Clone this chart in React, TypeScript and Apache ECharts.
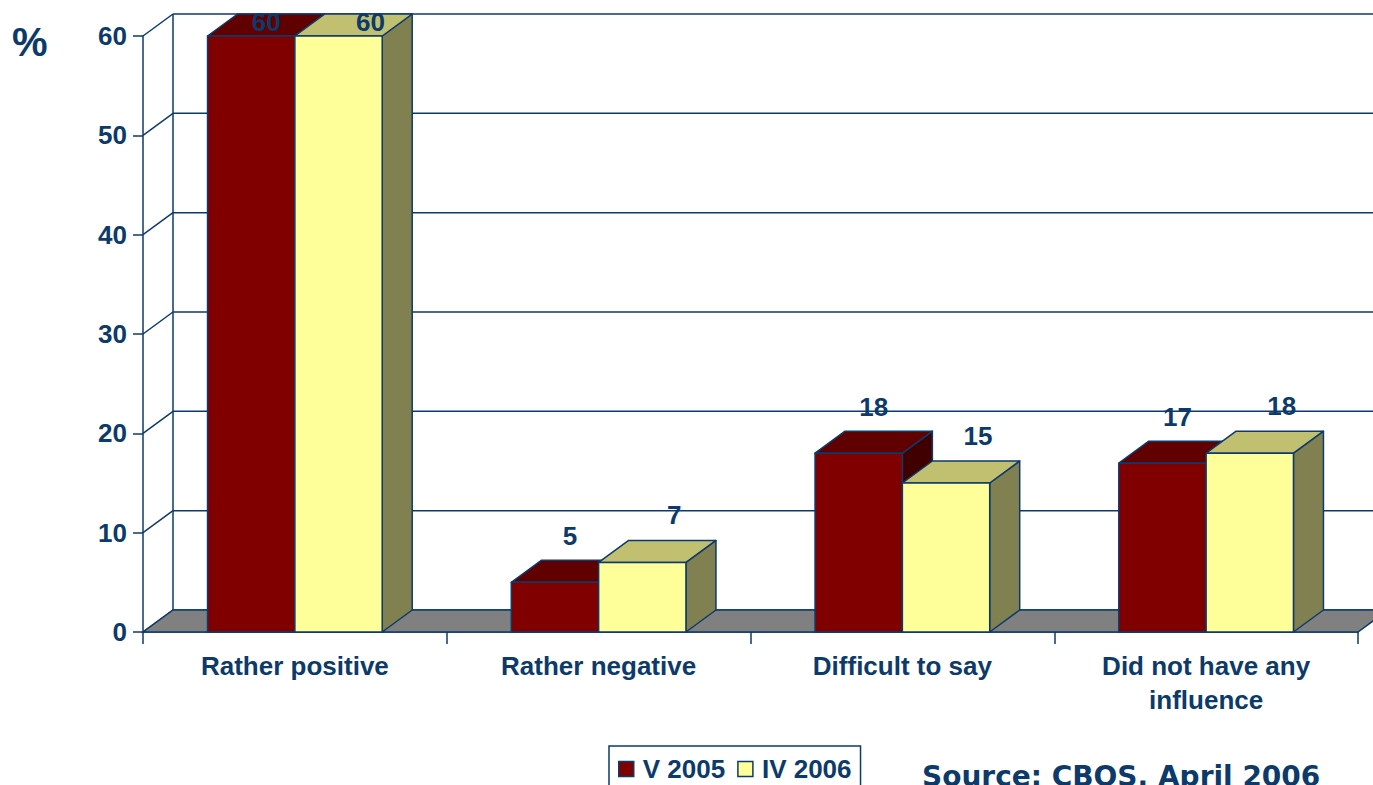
import React, { useEffect, useRef } from "react";
import * as echarts from "echarts";

const categories = ["Rather positive", "Rather negative", "Difficult to say", "Did not have any\ninfluence"];
const seriesNames = ["V 2005", "IV 2006"];
const v2005 = [60, 5, 18, 17];
const iv2006 = [60, 7, 15, 18];
const yTicks = [0, 10, 20, 30, 40, 50, 60];
const unitLabel = "%";
const sourceText = "Source: CBOS, April 2006";

const NAVY = "#0C3A6B";
const DX = 30;
const DY = -22;
const FONT = "'Liberation Sans', Arial, sans-serif";
const LW = 1.5;

const palettes = [
  { front: "#800000", top: "#600000", side: "#400000" },
  { front: "#FFFF99", top: "#C0C070", side: "#808050" },
];
const labelShift = [
  { dx: 15, dy: -46 },
  { dx: 32, dy: -47 },
];

function makeBarRender(s: number) {
  return (params: any, api: any) => {
    const i = api.value(0);
    const v = api.value(1);
    const base = api.coord([i, 0]);
    const top = api.coord([i, v]);
    const band = api.size([1, 0])[0];
    const bw = band * 0.2875;
    const x0 = s === 0 ? base[0] - bw : base[0];
    const x1 = x0 + bw;
    const yb = base[1];
    const yt = top[1];
    const c = palettes[s];
    const stroke = { stroke: NAVY, lineWidth: LW, lineJoin: "round" };
    const lx = (x0 + x1) / 2 + labelShift[s].dx;
    const ly = Math.max(yt + labelShift[s].dy, 22);
    return {
      type: "group",
      children: [
        {
          type: "polygon",
          shape: { points: [[x1, yt], [x1 + DX, yt + DY], [x1 + DX, yb + DY], [x1, yb]] },
          style: { fill: c.side, ...stroke },
        },
        {
          type: "polygon",
          shape: { points: [[x0, yt], [x1, yt], [x1 + DX, yt + DY], [x0 + DX, yt + DY]] },
          style: { fill: c.top, ...stroke },
        },
        {
          type: "rect",
          shape: { x: x0, y: yt, width: bw, height: yb - yt },
          style: { fill: c.front, ...stroke },
        },
        {
          type: "text",
          x: lx,
          y: ly,
          style: {
            text: String(v),
            fill: NAVY,
            fontSize: 26,
            fontWeight: "bold",
            fontFamily: FONT,
            align: "center",
            verticalAlign: "middle",
          },
        },
      ],
    };
  };
}

export default function App() {
  const ref = useRef<HTMLDivElement>(null);
  useEffect(() => {
    const chart = echarts.init(ref.current!, null, { renderer: "svg" });
    const n = categories.length;
    const yMax = yTicks[yTicks.length - 1];

    const wallRender = (params: any, api: any) => {
      const v = api.value(1);
      const band = api.size([1, 0])[0];
      const p = api.coord([0, v]);
      const lx = p[0] - band / 2;
      const rx = api.coord([n - 1, v])[0] + band / 2;
      const st = { stroke: NAVY, lineWidth: LW };
      const children: any[] = [
        { type: "line", shape: { x1: lx, y1: p[1], x2: lx + DX, y2: p[1] + DY }, style: st },
        { type: "line", shape: { x1: lx + DX, y1: p[1] + DY, x2: rx + DX + 60, y2: p[1] + DY }, style: st },
      ];
      if (v === yMax) {
        const b = api.coord([0, 0]);
        children.push({
          type: "line",
          shape: { x1: lx + DX, y1: b[1] + DY, x2: lx + DX, y2: p[1] + DY },
          style: st,
        });
      }
      return { type: "group", children };
    };

    const floorRender = (params: any, api: any) => {
      const band = api.size([1, 0])[0];
      const b = api.coord([0, 0]);
      const lx = b[0] - band / 2;
      const rx = api.coord([n - 1, 0])[0] + band / 2;
      const y = b[1];
      return {
        type: "polygon",
        shape: { points: [[lx, y], [rx, y], [rx + DX, y + DY], [lx + DX, y + DY]] },
        style: { fill: "#808080", stroke: NAVY, lineWidth: LW },
      };
    };

    chart.setOption({
      animation: false,
      grid: { left: 143, right: 15, top: 36, bottom: 153, containLabel: false },
      xAxis: {
        type: "category",
        data: categories,
        axisLine: { show: true, lineStyle: { color: NAVY, width: LW } },
        axisTick: { show: true, length: 12, alignWithLabel: false, lineStyle: { color: NAVY, width: LW } },
        axisLabel: {
          interval: 0,
          color: NAVY,
          fontSize: 26,
          fontWeight: "bold",
          fontFamily: FONT,
          margin: 17,
          lineHeight: 34,
        },
        splitLine: { show: false },
      },
      yAxis: {
        type: "value",
        min: 0,
        max: yMax,
        interval: 10,
        axisLine: { show: true, lineStyle: { color: NAVY, width: LW } },
        axisTick: { show: true, length: 10, lineStyle: { color: NAVY, width: LW } },
        axisLabel: { color: NAVY, fontSize: 26, fontWeight: "bold", fontFamily: FONT, margin: 16 },
        splitLine: { show: false },
      },
      legend: {
        data: seriesNames,
        left: 609,
        top: 746,
        orient: "horizontal",
        icon: "rect",
        itemWidth: 15,
        itemHeight: 15,
        itemGap: 12,
        padding: [10, 9, 14, 9],
        borderColor: NAVY,
        borderWidth: LW,
        itemStyle: { borderColor: NAVY, borderWidth: 1.5 },
        textStyle: { color: NAVY, fontSize: 26, fontWeight: "bold", fontFamily: FONT, padding: [0, 0, 0, 4] },
        selectedMode: false,
      },
      graphic: [
        {
          type: "text",
          left: 12,
          top: 22,
          style: { text: unitLabel, fill: NAVY, fontSize: 40, fontWeight: "bold", fontFamily: FONT },
        },
        {
          type: "text",
          x: 922,
          y: 776,
          style: {
            text: sourceText,
            fill: NAVY,
            fontSize: 28,
            fontWeight: "bold",
            fontFamily: "'DejaVu Sans', Verdana, sans-serif",
            verticalAlign: "middle",
          },
        },
      ],
      series: [
        {
          type: "custom",
          name: "wall",
          silent: true,
          clip: false,
          z: 1,
          renderItem: wallRender,
          data: yTicks.map((v) => [0, v]),
          encode: { x: 0, y: 1 },
        },
        {
          type: "custom",
          name: "floor",
          silent: true,
          clip: false,
          z: 2,
          renderItem: floorRender,
          data: [[0, 0]],
          encode: { x: 0, y: 1 },
        },
        {
          type: "custom",
          name: seriesNames[0],
          silent: true,
          clip: false,
          z: 3,
          itemStyle: { color: palettes[0].front },
          renderItem: makeBarRender(0),
          data: v2005.map((v, i) => [i, v]),
          encode: { x: 0, y: 1 },
        },
        {
          type: "custom",
          name: seriesNames[1],
          silent: true,
          clip: false,
          z: 4,
          itemStyle: { color: palettes[1].front },
          renderItem: makeBarRender(1),
          data: iv2006.map((v, i) => [i, v]),
          encode: { x: 0, y: 1 },
        },
      ],
    });
    return () => chart.dispose();
  }, []);
  return (
    <div
      ref={ref}
      style={{ position: "fixed", left: 0, top: 0, width: 1373, height: 785, background: "#fff" }}
    />
  );
}
